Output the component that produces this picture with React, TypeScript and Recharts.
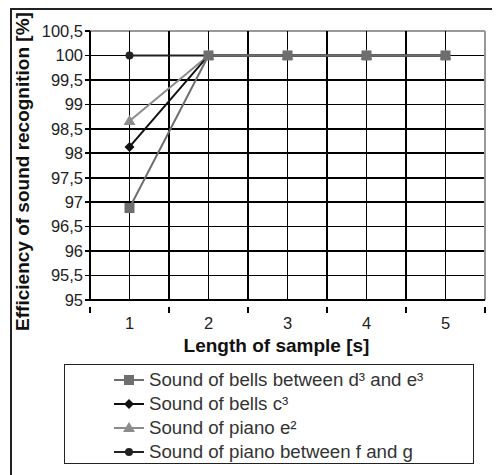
import { LineChart, Line, XAxis, YAxis, Legend, Label, ReferenceLine } from "recharts";

const lengths = [1, 2, 3, 4, 5];
const bellsDE = [96.88, 100, 100, 100, 100];
const bellsC = [98.13, 100, 100, 100, 100];
const pianoE = [98.66, 100, 100, 100, 100];
const pianoFG = [100, 100, 100, 100, 100];
const yTicks = [95, 95.5, 96, 96.5, 97, 97.5, 98, 98.5, 99, 99.5, 100, 100.5];
const xTicks = [0.5, 1, 1.5, 2, 2.5, 3, 3.5, 4, 4.5, 5, 5.5];

const data = lengths.map((x, i) => ({
  x,
  bellsDE: bellsDE[i],
  bellsC: bellsC[i],
  pianoE: pianoE[i],
  pianoFG: pianoFG[i],
}));

const FONT = "'Liberation Sans', Arial, sans-serif";

type Shape = "square" | "diamond" | "triangle" | "circle";

function Marker({ shape, cx, cy, color }: { shape: Shape; cx: number; cy: number; color: string }) {
  if (shape === "square") return <rect x={cx - 5} y={cy - 5} width={10} height={10} fill={color} />;
  if (shape === "diamond")
    return <polygon points={`${cx},${cy - 5} ${cx + 5},${cy} ${cx},${cy + 5} ${cx - 5},${cy}`} fill={color} />;
  if (shape === "triangle")
    return <polygon points={`${cx},${cy - 6} ${cx + 6},${cy + 4} ${cx - 6},${cy + 4}`} fill={color} />;
  return <circle cx={cx} cy={cy} r={4} fill={color} />;
}

const series: { key: string; name: string; color: string; shape: Shape }[] = [
  { key: "pianoFG", name: "Sound of piano between f and g", color: "#222", shape: "circle" },
  { key: "pianoE", name: "Sound of piano e²", color: "#8c8c8c", shape: "triangle" },
  { key: "bellsC", name: "Sound of bells c³", color: "#111", shape: "diamond" },
  { key: "bellsDE", name: "Sound of bells between d³ and e³", color: "#6e6e6e", shape: "square" },
];
const legendOrder = ["bellsDE", "bellsC", "pianoE", "pianoFG"];

function dotFor(shape: Shape, color: string) {
  return (props: any) => (
    <Marker key={`${shape}-${props.index}`} shape={shape} cx={props.cx} cy={props.cy} color={color} />
  );
}

function XTick(props: any) {
  const { x, y, payload } = props;
  const v = payload.value;
  if (Number.isInteger(v)) {
    return (
      <text x={x} y={y + 21} textAnchor="middle" fontSize={16.5} fontFamily={FONT} fill="#222">
        {v}
      </text>
    );
  }
  return <line x1={x} y1={y - 1} x2={x} y2={y + 5} stroke="#000" strokeWidth={1.6} shapeRendering="crispEdges" />;
}

function LegendBox() {
  return (
    <div
      style={{
        width: 410,
        height: 100,
        border: "1.5px solid #222",
        boxSizing: "border-box",
        fontFamily: FONT,
        fontSize: 18.7,
        color: "#333",
        paddingTop: 3,
      }}
    >
      {legendOrder.map((k) => {
        const s = series.find((t) => t.key === k)!;
        return (
          <div key={k} style={{ display: "flex", alignItems: "center", height: 24, paddingLeft: 48 }}>
            <svg width={34} height={14} style={{ marginRight: 2 }}>
              <line x1={1} y1={7} x2={31} y2={7} stroke={s.color} strokeWidth={2} />
              <Marker shape={s.shape} cx={16} cy={7} color={s.color} />
            </svg>
            <span>{s.name}</span>
          </div>
        );
      })}
    </div>
  );
}

export default function App() {
  return (
    <div style={{ position: "relative", width: 492, height: 467 }}>
      <div
        style={{
          position: "absolute",
          left: 2,
          top: 0,
          width: 490,
          height: 467,
          borderLeft: "2px solid #222",
          borderTop: "2px solid #222",
          boxSizing: "border-box",
        }}
      />
      <LineChart
        width={492}
        height={467}
        data={data}
        margin={{ top: 23, right: 15, left: 0, bottom: 115 }}
        style={{ fontFamily: FONT }}
      >
        <XAxis
          type="number"
          dataKey="x"
          domain={[0.5, 5.5]}
          ticks={xTicks}
          interval={0}
          tickLine={false}
          tick={<XTick />}
          axisLine={{ stroke: "#000", strokeWidth: 1.6, shapeRendering: "crispEdges" }}
          height={60}
        >
          <Label
            content={(p: any) => {
              const vb = p.viewBox;
              return (
                <text
                  x={vb.x + vb.width / 2 - 11}
                  y={vb.y + 52}
                  textAnchor="middle"
                  fontSize={19}
                  fontWeight="bold"
                  fontFamily={FONT}
                  fill="#111"
                >
                  Length of sample [s]
                </text>
              );
            }}
          />
        </XAxis>
        <YAxis
          domain={[95, 100.5]}
          ticks={yTicks}
          interval={0}
          width={82}
          tickSize={5}
          tickLine={{ stroke: "#000", strokeWidth: 1.6, shapeRendering: "crispEdges" }}
          axisLine={{ stroke: "#000", strokeWidth: 1.6, shapeRendering: "crispEdges" }}
          tick={{ fontSize: 16.5, fill: "#222", fontFamily: FONT }}
          tickFormatter={(v: number) => String(v).replace(".", ",")}
        >
          <Label
            content={(p: any) => {
              const vb = p.viewBox;
              const cx = 14;
              const cy = vb.y + vb.height / 2 + 6;
              return (
                <text
                  x={cx}
                  y={cy}
                  transform={`rotate(-90, ${cx}, ${cy})`}
                  textAnchor="middle"
                  dominantBaseline="central"
                  fontSize={19}
                  fontWeight="bold"
                  fontFamily={FONT}
                  fill="#111"
                >
                  Efficiency of sound recognition [%]
                </text>
              );
            }}
          />
        </YAxis>
        {yTicks.slice(1).map((v, i) => (
          <ReferenceLine
            key={`y${v}`}
            y={v}
            stroke={i === yTicks.length - 2 ? "#999" : "#000"}
            strokeWidth={1.6}
            shapeRendering="crispEdges"
          />
        ))}
        {xTicks.slice(1).map((v, i) => (
          <ReferenceLine
            key={`x${v}`}
            x={v}
            stroke={i === xTicks.length - 2 ? "#999" : "#000"}
            strokeWidth={1.6}
            shapeRendering="crispEdges"
          />
        ))}
        {series.map((s) => (
          <Line
            key={s.key}
            type="linear"
            dataKey={s.key}
            name={s.name}
            stroke={s.color}
            strokeWidth={2}
            dot={dotFor(s.shape, s.color)}
            isAnimationActive={false}
          />
        ))}
        <Legend
          layout="vertical"
          align="center"
          verticalAlign="middle"
          content={() => <LegendBox />}
          wrapperStyle={{ position: "absolute", left: 56, top: 356, width: 410, height: 100 }}
        />
      </LineChart>
    </div>
  );
}
